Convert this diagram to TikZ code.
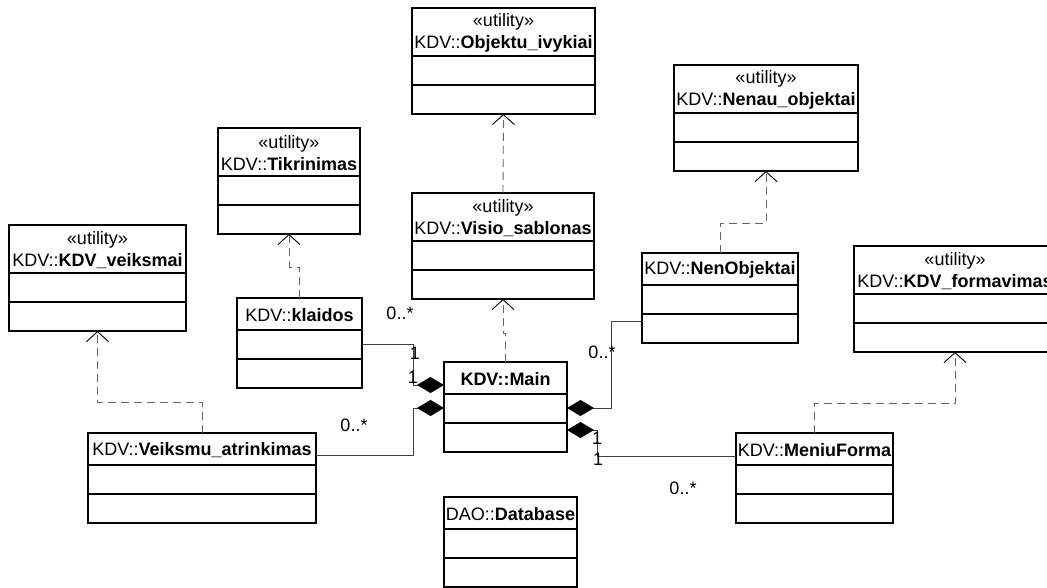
\documentclass[tikz,border=0pt]{standalone}
\usepackage{fontspec}
\setmainfont{Liberation Sans}
\usetikzlibrary{calc}
\usetikzlibrary{arrows.meta}
\colorlet{linegray}{black!75}
\colorlet{dashgray}{black!60}
\tikzset{
  classbox/.style={draw, line width=1.4pt, outer sep=0pt, inner sep=0pt, anchor=north west},
  classtitle/.style={inner sep=0pt, align=center, font=\fontsize{18}{22}\selectfont},
  divider/.style={line width=1.4pt},
  depend/.style={dashgray, line width=0.9pt, dash pattern=on 8pt off 5pt,
    -{Straight Barb[length=10pt,width=22pt,color=black]}},
  assoc/.style={linegray, line width=0.9pt, {Diamond[length=27pt,width=16pt,color=black]}-},
  mult/.style={inner sep=0pt, font=\fontsize{18}{20}\selectfont}
}
% class box: name, x, y (north west corner), width, header height, title
\newcommand{\umlclass}[6]{
  \node[classbox, minimum width=#4pt, minimum height={#5pt+58pt}] (#1) at (#2,#3) {};
  \node[classtitle] (#1-title) at ($(#1.north)+(0,#5/2+1)$) {#6};
  \draw[divider] ($(#1.north west)+(0,#5)$) -- ++(#4,0);
  \draw[divider] ($(#1.north west)+(0,#5+29)$) -- ++(#4,0);
}
\newcommand{\utility}[1]{«utility»\\KDV::\textbf{#1}}

\begin{document}
\begin{tikzpicture}[x=1pt,y=-1pt]
  \useasboundingbox (0,0) rectangle (1047,588);
  % utility classes
  \umlclass{objektu}{412}{8}{183}{48}{\utility{Objektu\_ivykiai}}
  \umlclass{tikrinimas}{218}{128}{142}{48}{\utility{Tikrinimas}}
  \umlclass{visio}{412}{193}{182}{48}{\utility{Visio\_sablonas}}
  \umlclass{nenau}{674}{65}{184}{48}{\utility{Nenau\_objektai}}
  \umlclass{veiksmai}{9}{225}{177}{48}{\utility{KDV\_veiksmai}}
  \umlclass{formavimas}{854}{246}{202}{48}{\utility{KDV\_formavimas}}
  % plain classes
  \umlclass{klaidos}{237}{298}{125}{32}{KDV::\textbf{klaidos}}
  \umlclass{main}{444}{362}{123}{32}{\textbf{KDV::Main}}
  \umlclass{nenobjektai}{642}{253}{156}{32}{KDV::\textbf{NenObjektai}}
  \umlclass{atrinkimas}{88}{433}{228}{32}{KDV::\textbf{Veiksmu\_atrinkimas}}
  \umlclass{meniu}{736}{433}{157}{32}{KDV::\textbf{MeniuForma}}
  \umlclass{database}{444}{497}{133}{32}{DAO::\textbf{Database}}

  % dependencies
  \draw[depend] (visio.north) -- (objektu.south);
  \draw[depend] (main.north) -- ++(0,-29) -| (visio.south);
  \draw[depend] (klaidos.north) -- ++(0,-31) -| (tikrinimas.south);
  \draw[depend] (atrinkimas.north) -- ++(0,-31) -| (veiksmai.south);
  \draw[depend] (nenobjektai.north) -- ++(0,-30) -| (nenau.south);
  \draw[depend] (meniu.north) -- ++(0,-30) -| (formavimas.south);

  % compositions
  \draw[assoc] ($(main.north west)+(0,23)$) -- ++(-31,0) |- ($(klaidos.north east)+(0,46)$);
  \draw[assoc] ($(main.north west)+(0,46)$) -- ++(-31,0) |- ($(atrinkimas.north east)+(0,22)$);
  \draw[assoc] ($(main.north east)+(0,46)$) -- ++(44,0) |- ($(nenobjektai.north west)+(0,68)$);
  \draw[assoc] ($(main.north east)+(0,68)$) -- ++(30,0) |- ($(meniu.north west)+(0,23)$);

  % multiplicities
  \node[mult] (m1) at (400,313) {0..*};
  \node[mult] (m2) at (415,353) {1};
  \node[mult] (m3) at (413,377) {1};
  \node[mult] (m4) at (354,425) {0..*};
  \node[mult] (m5) at (602,352) {0..*};
  \node[mult] (m6) at (597,438) {1};
  \node[mult] (m7) at (598,459) {1};
  \node[mult] (m8) at (683,488) {0..*};
\end{tikzpicture}
\end{document}
